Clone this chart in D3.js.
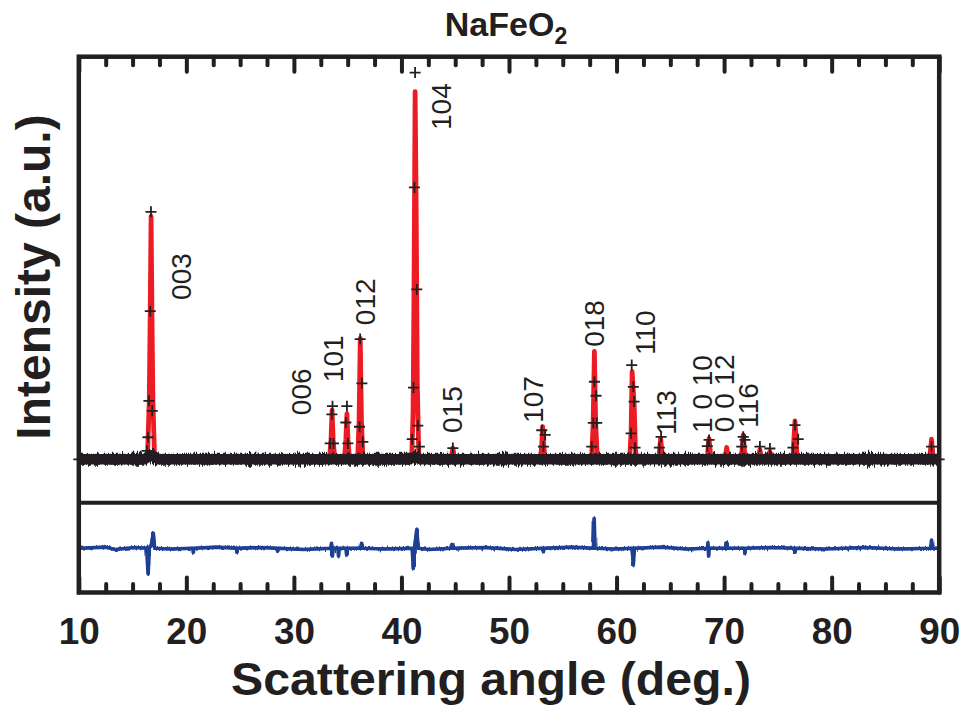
<!DOCTYPE html>
<html>
<head>
<meta charset="utf-8">
<script src="https://cdn.jsdelivr.net/npm/d3@7"></script>
<style>
  body { margin: 0; background: #ffffff; }
  svg { display: block; }
  text { fill: #231f20; }
</style>
</head>
<body>
<svg id="chart" width="965" height="715"></svg>
<script>
// ---- axis ticks ----
const xTicks = [10, 20, 30, 40, 50, 60, 70, 80, 90];
const xMinorStep = 2.5;

// ---- observed intensities shown as crosses (2θ in deg, intensity a.u.) ----
const obsAngle = [10.0,
  16.34, 16.43, 16.52, 16.645, 16.71, 16.83, 16.9,
  33.37, 33.53, 33.59, 33.68,
  34.83, 34.93, 35.02,
  36.10, 36.16, 36.32, 36.41,
  41.0, 41.12, 41.21, 41.27, 41.43, 41.52, 41.67,
  44.78,
  53.05, 53.2, 53.36,
  57.69, 57.84, 57.94, 58.09, 58.16,
  61.35, 61.41, 61.56, 61.63, 61.72,
  63.98, 64.14,
  68.44, 68.6,
  71.64, 71.78, 71.94,
  73.33, 74.26,
  76.4, 76.59, 76.89,
  89.29, 90.0];
const obsInt = [0,
  22, 57, 151, 382, 638, 125, 15,
  41, 116, 137, 41,
  95, 137, 41,
  84, 310, 196, 45,
  52, 185, 701, 997, 438, 87, 33,
  29,
  75, 33, 63,
  33, 94, 200, 164, 94,
  67, 243, 187, 149, 30,
  30, 58,
  34, 50,
  33, 58, 50,
  33, 28,
  30, 88, 52,
  33, 0];

// ---- calculated profile ----
const calcAngle = [10.0,
  16.38, 16.55, 16.64, 16.72, 16.80, 16.89, 17.05,
  33.30, 33.45, 33.55, 33.65, 33.80,
  34.70, 34.83, 34.93, 35.03, 35.17,
  35.93, 36.06, 36.17, 36.28, 36.42,
  40.95, 41.08, 41.17, 41.27, 41.37, 41.47, 41.62,
  44.60, 44.78, 44.95,
  52.93, 53.05, 53.13, 53.22, 53.35,
  57.68, 57.82, 57.94, 58.06, 58.22,
  61.22, 61.35, 61.45, 61.55, 61.64, 61.75, 61.85,
  63.92, 64.10, 64.28,
  68.42, 68.60, 68.78,
  70.08, 70.24, 70.40,
  71.60, 71.78, 71.96,
  73.15, 73.33, 73.50,
  74.10, 74.26, 74.42,
  76.38, 76.59, 76.80,
  89.10, 89.29, 89.45,
  90.0];
const calcInt = [0,
  0, 150, 380, 626, 380, 150, 0,
  0, 50, 127, 50, 0,
  0, 50, 117, 50, 0,
  0, 100, 312, 100, 0,
  0, 120, 450, 948, 650, 200, 0,
  0, 29, 0,
  0, 40, 84, 40, 0,
  0, 90, 278, 90, 0,
  0, 70, 226, 180, 140, 30, 0,
  0, 54, 0,
  0, 54, 0,
  0, 31, 0,
  0, 63, 0,
  0, 25, 0,
  0, 20, 0,
  0, 99, 0,
  0, 52, 0,
  0];

// ---- background level of the observed pattern ----
const bgAngle = [10, 16.1, 16.5, 16.95, 17.4, 40.7, 41.27, 41.9, 90];
const bgInt   = [0, 0, 8, 8, 0, 0, 6, 0, 0];

// ---- difference (observed - calculated) ----
const diffAngle = [10, 12.5, 13.4, 15.2, 16.3, 16.45, 16.55, 16.75, 16.93, 17.05,
  18.5, 20.6, 20.65, 20.7, 22.8, 24.65, 24.7, 24.75, 26.9, 28.45, 28.5, 28.55, 30.9,
  33.4, 33.5, 33.58, 33.66, 34.1, 34.15, 34.2, 34.85, 34.9, 34.95, 36.2, 36.3, 36.4,
  38.5, 41.0, 41.1, 41.22, 41.3, 41.43, 41.55, 42.6, 44.65, 44.7, 44.75, 47.8, 50.6,
  53.15, 53.2, 53.25, 55.9, 57.85, 57.92, 58.0, 59.8, 61.45, 61.56, 61.66, 64.2, 66.5,
  68.45, 68.5, 68.56, 68.62, 70.2, 70.24, 70.3, 71.9, 71.94, 72.0, 74.3,
  76.55, 76.6, 76.65, 79.4, 83.1, 86.2, 89.2, 89.29, 89.38, 90];
const diffVal = [0, 3, -3, 2, 0, -66, 0, 10, 39, 0,
  -2, 0, -11, 0, 3, 0, -10, 0, 2, 0, -7, 0, -3,
  0, 13, -20, 0, 0, -20, 0, 0, -17, 0, 0, 13, 0,
  -2, 0, -52, 0, 20, 49, 0, -3, 0, 10, 0, 2, -3,
  0, -9, 0, 3, 0, 77, 0, -2, 0, -43, 0, 3, -2,
  0, 14, -20, 0, 0, 14, 0, 0, -13, 0, 2,
  0, -10, 0, -2, 2, -2, 0, 21, 0, 0];

// ---- reflection labels ----
const hklText  = ["003", "006", "101", "012", "104", "015", "107", "018", "110", "113", "1 0 10", "0 0 12", "116"];
const hklAngle = [19.54, 30.68, 33.65, 36.63, 43.69, 44.71, 52.24, 57.91, 62.65, 64.60, 67.95, 69.99, 72.22];
const hklInt   = [411, 114, 199, 346, 849, 68, 94, 290, 269, 63, 68, 70, 81];

// ---- layout ----
const ink = "#231f20";
const blue = "#1f3f93";
const font = "'Liberation Sans', Arial, sans-serif";
const frame = { left: 78.8, right: 939.2, top: 56.7, mid: 502.8, bottom: 592.5 };

const svg = d3.select("#chart");

const x = d3.scaleLinear().domain([10, 90]).range([frame.left, frame.right]);
const yTop = d3.scaleLinear().domain([-112, 1038]).range([frame.mid, frame.top]);
const yBot = d3.scaleLinear().domain([-114, 117.3]).range([frame.bottom, frame.mid]);

const defs = svg.append("defs");

// roughening filters for the edges of the dense observed band and the difference trace
function roughFilter(id, y0, h, scale, seed) {
  const f = defs.append("filter").attr("id", id)
    .attr("filterUnits", "userSpaceOnUse")
    .attr("x", 50).attr("y", y0).attr("width", 920).attr("height", h);
  f.append("feTurbulence").attr("type", "fractalNoise")
    .attr("baseFrequency", "0.7 0.05").attr("numOctaves", 2).attr("seed", seed).attr("result", "n");
  f.append("feDisplacementMap").attr("in", "SourceGraphic").attr("in2", "n")
    .attr("scale", scale).attr("xChannelSelector", "G").attr("yChannelSelector", "R");
}
roughFilter("rough", 400, 100, 10, 4);
roughFilter("roughDiff", 505, 85, 5, 9);

const clipTop = defs.append("clipPath").attr("id", "clipTop");
clipTop.append("rect").attr("x", frame.left - 6).attr("y", frame.top)
  .attr("width", frame.right - frame.left + 12).attr("height", frame.mid - frame.top);

const plot = svg.append("g").attr("clip-path", "url(#clipTop)");
const line = d3.line().x(d => x(d[0])).y(d => yTop(d[1]));

// calculated profile (red)
plot.append("path")
  .datum(calcAngle.map((a, i) => [a, calcInt[i]]))
  .attr("d", line)
  .attr("fill", "none")
  .attr("stroke", "#ed1c24")
  .attr("stroke-width", 4.8)
  .attr("stroke-linejoin", "round")
  .attr("stroke-linecap", "round");

// observed baseline band (black): solid core plus a roughened outline
const bgData = bgAngle.map((a, i) => [a, bgInt[i]]);
plot.append("path")
  .datum(bgData)
  .attr("d", line)
  .attr("fill", "none")
  .attr("stroke", ink)
  .attr("stroke-width", 10.5);
plot.append("path")
  .datum(bgData)
  .attr("d", line)
  .attr("fill", "none")
  .attr("stroke", ink)
  .attr("stroke-width", 11)
  .attr("filter", "url(#rough)");

// observed crosses
svg.append("g").selectAll("path.obs")
  .data(obsAngle.map((a, i) => [a, obsInt[i]]))
  .join("path")
  .attr("class", "obs")
  .attr("transform", d => `translate(${x(d[0])},${yTop(d[1])})`)
  .attr("d", "M-5.5,0H5.5M0,-5.5V5.5")
  .attr("stroke", ink)
  .attr("stroke-width", 1.8)
  .attr("fill", "none");

// difference curve (blue): smooth trace plus a slightly roughened copy
const diffData = diffAngle.map((a, i) => [a, diffVal[i]]);
const diffLine = d3.line().x(d => x(d[0])).y(d => yBot(d[1]));
svg.append("path")
  .datum(diffData)
  .attr("d", diffLine)
  .attr("fill", "none")
  .attr("stroke", blue)
  .attr("stroke-width", 3.6)
  .attr("stroke-linejoin", "round");
svg.append("path")
  .datum(diffData)
  .attr("d", diffLine)
  .attr("fill", "none")
  .attr("stroke", blue)
  .attr("stroke-width", 3)
  .attr("stroke-linejoin", "round")
  .attr("filter", "url(#roughDiff)");

// reflection labels
svg.append("g").selectAll("text.hkl")
  .data(hklText.map((t, i) => ({ t, a: hklAngle[i], v: hklInt[i] })))
  .join("text")
  .attr("class", "hkl")
  .attr("transform", d => `translate(${x(d.a)},${yTop(d.v)}) rotate(-90)`)
  .attr("dy", "0.36em")
  .attr("text-anchor", "start")
  .style("font-family", font)
  .style("font-size", "28px")
  .style("white-space", "pre")
  .text(d => d.t);

// ticks: major and minor on top and bottom, pointing inward
const minorTicks = d3.range(10, 90.001, xMinorStep).filter(v => !xTicks.includes(v));

function tickStyle(g) {
  g.select(".domain").remove();
  g.selectAll(".tick line").attr("stroke", ink).attr("stroke-width", 4).attr("stroke-linecap", "round");
}

svg.append("g").attr("transform", `translate(0,${frame.top})`)
  .call(d3.axisTop(x).tickValues(xTicks).tickSize(-15).tickFormat(""))
  .call(tickStyle);
svg.append("g").attr("transform", `translate(0,${frame.top})`)
  .call(d3.axisTop(x).tickValues(minorTicks).tickSize(-8.5).tickFormat(""))
  .call(tickStyle);
svg.append("g").attr("transform", `translate(0,${frame.bottom})`)
  .call(d3.axisBottom(x).tickValues(minorTicks).tickSize(-8.5).tickFormat(""))
  .call(tickStyle);
const xAxis = svg.append("g").attr("transform", `translate(0,${frame.bottom})`)
  .call(d3.axisBottom(x).tickValues(xTicks).tickSize(-15).tickPadding(25).tickFormat(d3.format("d")))
  .call(tickStyle);
xAxis.selectAll(".tick text")
  .attr("fill", ink)
  .attr("textLength", 41)
  .attr("lengthAdjust", "spacingAndGlyphs")
  .style("font-family", font)
  .style("font-size", "37px")
  .style("font-weight", "bold");

// frame and panel divider
svg.append("rect")
  .attr("x", frame.left).attr("y", frame.top)
  .attr("width", frame.right - frame.left).attr("height", frame.bottom - frame.top)
  .attr("fill", "none").attr("stroke", ink).attr("stroke-width", 4.5);
svg.append("line")
  .attr("x1", frame.left).attr("x2", frame.right)
  .attr("y1", frame.mid).attr("y2", frame.mid)
  .attr("stroke", ink).attr("stroke-width", 4);

// titles
const title = svg.append("text")
  .attr("x", 506).attr("y", 36)
  .attr("text-anchor", "middle")
  .style("font-family", font)
  .style("font-size", "34px")
  .style("font-weight", "bold");
title.append("tspan").text("NaFeO");
title.append("tspan").attr("dy", 8).style("font-size", "23px").text("2");

svg.append("text")
  .attr("x", 491).attr("y", 695)
  .attr("text-anchor", "middle")
  .attr("textLength", 520)
  .attr("lengthAdjust", "spacingAndGlyphs")
  .style("font-family", font)
  .style("font-size", "46px")
  .style("font-weight", "bold")
  .text("Scattering angle (deg.)");

svg.append("text")
  .attr("transform", "translate(50,277) rotate(-90)")
  .attr("text-anchor", "middle")
  .style("font-family", font)
  .style("font-size", "48px")
  .style("font-weight", "bold")
  .text("Intensity (a.u.)");
</script>
</body>
</html>
